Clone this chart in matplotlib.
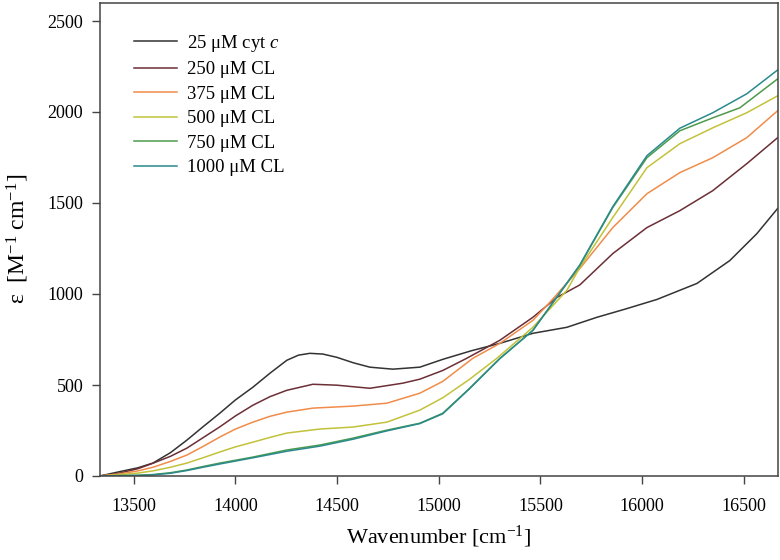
import numpy as np
import matplotlib
matplotlib.use('Agg')
import matplotlib.pyplot as plt

plt.rcParams['font.family'] = ['Liberation Serif', 'DejaVu Serif']
plt.rcParams['mathtext.fontset'] = 'custom'
plt.rcParams['mathtext.rm'] = 'Liberation Serif'
plt.rcParams['mathtext.it'] = 'Liberation Serif:italic'

# wavenumber (cm^-1) and epsilon values
w_cyt = [13333, 13431, 13520, 13594, 13680, 13761, 13840, 13923, 14000, 14086, 14170, 14253,
         14310, 14366, 14430, 14499, 14580, 14661, 14774, 14907, 15020, 15160, 15301, 15463,
         15630, 15778, 15920, 16073, 16270, 16432, 16565, 16667]
e_cyt = [0, 24, 45, 71, 128, 197, 270, 345, 418, 488, 565, 636,
         664, 674, 670, 652, 622, 598, 587, 598, 641, 688, 729, 784,
         817, 872, 918, 970, 1058, 1184, 1332, 1470]

w_250 = [13333, 13431, 13520, 13594, 13680, 13761, 13840, 13923, 14000, 14086, 14170, 14253,
         14381, 14499, 14661, 14823, 14907, 15020, 15138, 15301, 15463, 15581, 15694, 15856,
         16024, 16186, 16348, 16515, 16667]
e_250 = [0, 16, 40, 70, 108, 153, 210, 270, 330, 389, 436, 471,
         504, 499, 482, 510, 532, 580, 647, 746, 872, 981, 1050, 1222,
         1365, 1458, 1568, 1716, 1859]

w_375 = [13333, 13431, 13520, 13594, 13680, 13761, 13840, 13923, 14000, 14086, 14170, 14253,
         14381, 14578, 14745, 14907, 15020, 15168, 15301, 15463, 15546, 15694, 15856, 16024,
         16186, 16348, 16515, 16667]
e_375 = [0, 12, 28, 48, 80, 115, 162, 214, 258, 296, 328, 351,
         373, 384, 400, 455, 520, 647, 729, 855, 954, 1140, 1365, 1551,
         1667, 1749, 1859, 2007]

w_500 = [13333, 13431, 13520, 13594, 13680, 13761, 13840, 13923, 14000, 14086, 14170, 14253,
         14415, 14578, 14745, 14907, 15020, 15150, 15286, 15463, 15630, 15694, 15856, 16024,
         16186, 16348, 16515, 16667]
e_500 = [0, 8, 16, 28, 48, 71, 100, 132, 160, 186, 212, 236,
         258, 269, 296, 362, 430, 530, 647, 817, 1020, 1146, 1420, 1694,
         1826, 1913, 1996, 2089]

w_750 = [13333, 13431, 13520, 13594, 13680, 13761, 13840, 13923, 14086, 14253, 14415, 14578,
         14745, 14907, 15020, 15150, 15301, 15463, 15630, 15694, 15856, 16024, 16186, 16348,
         16481, 16667]
e_750 = [0, 2, 4, 8, 18, 33, 52, 71, 104, 143, 170, 208,
         252, 290, 345, 480, 647, 800, 1058, 1157, 1475, 1749, 1897, 1968,
         2023, 2182]

w_1000 = [13333, 13431, 13520, 13594, 13680, 13761, 13840, 13923, 14086, 14253, 14415, 14578,
          14745, 14907, 15020, 15150, 15301, 15463, 15630, 15694, 15856, 16024, 16186, 16348,
          16515, 16667]
e_1000 = [0, 2, 3, 6, 15, 30, 48, 66, 100, 136, 164, 202,
          248, 288, 342, 478, 645, 800, 1060, 1160, 1480, 1760, 1911, 1996,
          2100, 2231]

labels = ['25 \u03bcM cyt $c$', '250 \u03bcM CL', '375 \u03bcM CL',
          '500 \u03bcM CL', '750 \u03bcM CL', '1000 \u03bcM CL']
colors = ['#333333', '#6b2f35', '#f08c4a', '#c2c23a', '#4d9a4d', '#2a8a8c']
series = [(w_cyt, e_cyt), (w_250, e_250), (w_375, e_375),
          (w_500, e_500), (w_750, e_750), (w_1000, e_1000)]

fig = plt.figure(figsize=(7.8, 5.6), dpi=100)
ax = fig.add_axes([0.128, 0.15, 0.869, 0.845])

for (w, e), lab, c in zip(series, labels, colors):
    ax.plot(w, e, color=c, lw=1.1, label=lab)

ax.set_xlim(13333, 16667)
ax.set_ylim(0, 2600)
ax.set_xticks([13500, 14000, 14500, 15000, 15500, 16000, 16500])
ax.set_yticks([0, 500, 1000, 1500, 2000, 2500])
ax.tick_params(direction='out', length=6, width=1, labelsize=13, color='#444444')
ax.tick_params(axis='x', pad=10)
ax.tick_params(axis='y', pad=6)
for s in ax.spines.values():
    s.set_color('#444444')
    s.set_linewidth(1.1)

ax.set_xlabel('Wavenumber [cm$^{-1}$]', fontsize=16, labelpad=6)
ax.set_ylabel('\u03b5  [M$^{-1}$ cm$^{-1}$]', fontsize=17, labelpad=12)

ax.legend(loc='upper left', bbox_to_anchor=(0.025, 0.972), frameon=False, fontsize=13.5,
          handlelength=2.3, handletextpad=0.55, labelspacing=0.39)

plt.savefig('out.png', dpi=100)
plt.close()
